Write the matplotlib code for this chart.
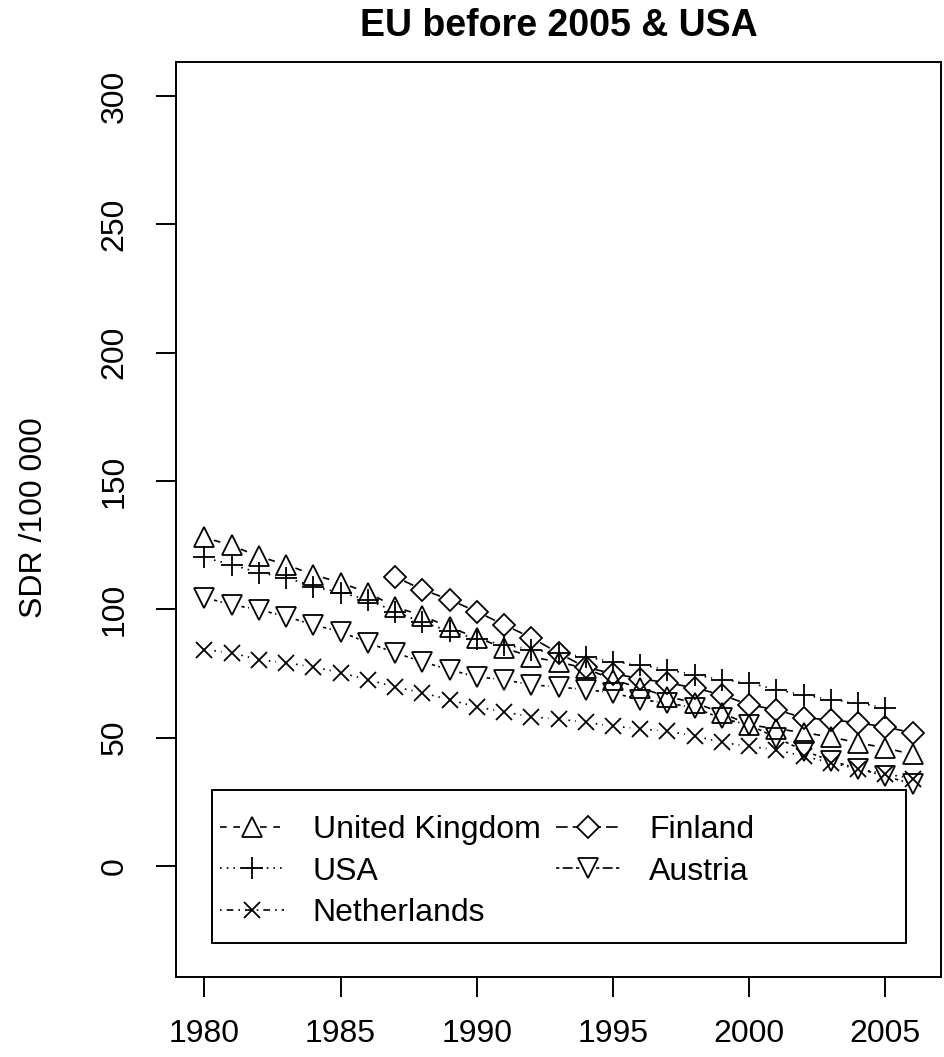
import matplotlib
matplotlib.use("Agg")
import matplotlib.pyplot as plt
import numpy as np
from matplotlib.collections import LineCollection
from matplotlib.legend_handler import HandlerTuple
from matplotlib.lines import Line2D
from matplotlib.patches import Rectangle

plt.rcParams.update({
    "font.family": "Liberation Sans",
    "font.size": 23,
    "axes.linewidth": 1.4,
    "xtick.major.width": 1.4,
    "ytick.major.width": 1.4,
    "xtick.major.size": 14.4,
    "ytick.major.size": 14.4,
})

# Data (SDR per 100 000)
YEARS = list(range(1980, 2007))
USA_YEARS = list(range(1980, 2006))
FIN_YEARS = list(range(1987, 2007))

UK = [128.0, 124.9, 120.6, 117.4, 113.5, 110.4, 106.5, 101.0, 97.5, 93.0,
      89.0, 85.0, 81.5, 79.5, 77.0, 72.6, 69.4, 66.0, 63.6, 59.7,
      55.0, 53.5, 52.0, 50.3, 48.0, 46.0, 43.5]
USA = [120.2, 117.4, 114.3, 112.4, 108.9, 106.5, 103.8, 99.1, 95.0, 91.5,
       88.5, 86.2, 84.3, 83.0, 81.5, 79.6, 78.4, 76.5, 74.5, 72.6,
       71.4, 68.7, 66.7, 64.8, 63.6, 61.6]
NETHERLANDS = [84.3, 83.1, 80.4, 79.2, 77.6, 75.3, 72.6, 69.8, 67.5, 64.8,
               62.0, 60.1, 58.1, 57.3, 56.0, 54.5, 53.5, 52.5, 50.7, 48.2,
               46.6, 45.3, 42.8, 40.3, 37.8, 36.0, 34.0]
FINLAND = [112.7, 107.7, 103.8, 99.1, 94.0, 89.0, 83.0, 77.4, 75.0, 73.0,
           71.4, 69.4, 66.7, 62.8, 60.9, 57.7, 57.0, 55.8, 54.2, 51.9]
AUSTRIA = [104.6, 101.8, 99.9, 97.2, 94.0, 91.3, 87.0, 83.1, 79.6, 76.5,
           73.7, 72.6, 70.6, 69.8, 68.7, 67.5, 64.8, 63.6, 61.6, 57.5,
           55.0, 50.0, 45.0, 41.0, 38.0, 35.0, 32.0]

XTICKS = [1980, 1985, 1990, 1995, 2000, 2005]
YTICKS = [0, 50, 100, 150, 200, 250, 300]

# label, x, y, marker, dash pattern, marker size
SERIES = [
    ("United Kingdom", YEARS, UK, "^", (0, (4, 4)), 14),
    ("USA", USA_YEARS, USA, "+", (0, (1, 3)), 16),
    ("Netherlands", YEARS, NETHERLANDS, "x", (0, (1, 3, 4, 3)), 12),
    ("Finland", FIN_YEARS, FINLAND, "D", (0, (7, 3)), 11.5),
    ("Austria", YEARS, AUSTRIA, "v", (0, (2, 2, 6, 2)), 14),
]
GAP_PX = 10   # like R's type="b": line segments stop short of the points

W, H = 944, 1057
fig = plt.figure(figsize=(W / 100, H / 100), dpi=100)
ax = fig.add_axes([176 / W, 80 / H, 765 / W, 915 / H])
ax.set_xlim(1978.96, 2007.04)
ax.set_ylim(-43.2, 313.2)


def gapped_segments(xs, ys):
    pts = ax.transData.transform(np.column_stack([xs, ys]))
    inv = ax.transData.inverted()
    segs = []
    for p0, p1 in zip(pts[:-1], pts[1:]):
        d = p1 - p0
        L = np.hypot(*d)
        if L <= 2 * GAP_PX:
            continue
        u = d / L
        segs.append(inv.transform([p0 + u * GAP_PX, p1 - u * GAP_PX]))
    return segs


handles = []
for label, xs, ys, mk, dash, ms in SERIES:
    ax.add_collection(LineCollection(gapped_segments(xs, ys), colors="black",
                                     linewidths=1.2, linestyles=[dash]))
    ax.plot(xs, ys, linestyle="none", marker=mk, markersize=ms,
            markerfacecolor="none", markeredgecolor="black",
            markeredgewidth=1.3)
    ln = Line2D([], [], color="black", linewidth=1.2, linestyle=dash)
    pt = Line2D([], [], linestyle="none", marker=mk, markersize=ms,
                markerfacecolor="white", markeredgecolor="black",
                markeredgewidth=1.3)
    handles.append((ln, pt))

ax.set_xticks(XTICKS)
ax.set_yticks(YTICKS)
ax.tick_params(axis="x", pad=16)
ax.tick_params(axis="y", pad=19, labelrotation=90)
for t in ax.get_yticklabels():
    t.set_va("center")

ax.legend(handles=handles, labels=[s[0] for s in SERIES],
          handler_map={tuple: HandlerTuple(ndivide=1, pad=0)},
          loc="upper left", bbox_to_anchor=(0.0575, 0.177),
          ncol=2, frameon=False, borderpad=0, borderaxespad=0,
          handlelength=2.0, handletextpad=0.9, columnspacing=0.5,
          labelspacing=0.36, fontsize=23)
ax.add_patch(Rectangle((0.047, 0.037), 0.907, 0.167, transform=ax.transAxes,
                       fill=False, edgecolor="black", linewidth=1.4))

fig.text(558.5 / W, 1 - 26 / H, "EU before 2005 & USA", ha="center",
         va="center", fontsize=27, fontweight="bold")
fig.text(34 / W, 1 - 518 / H, "SDR /100 000", ha="center", va="center",
         rotation=90, fontsize=23)

fig.savefig("out.png", dpi=100)
